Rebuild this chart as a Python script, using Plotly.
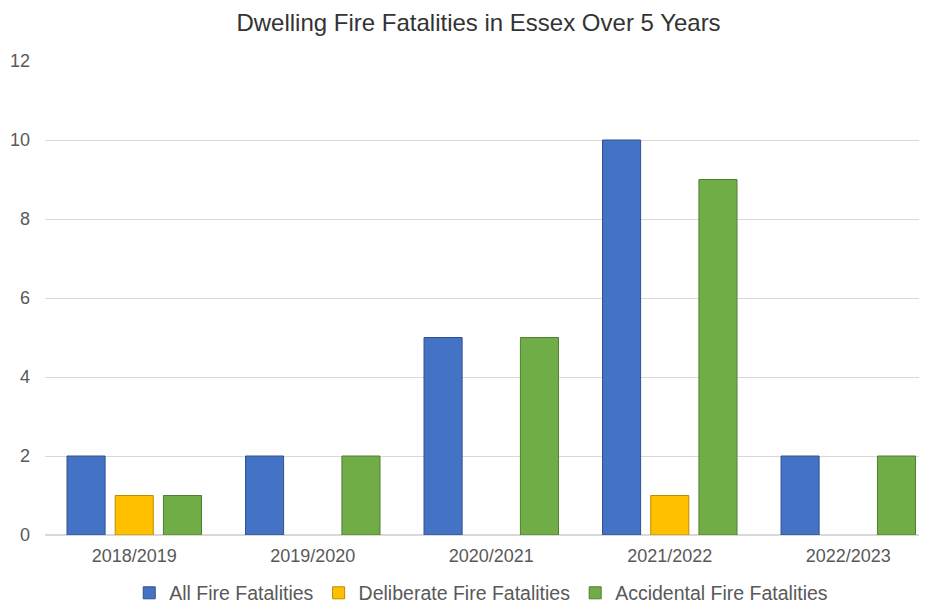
import plotly.graph_objects as go

categories = ["2018/2019", "2019/2020", "2020/2021", "2021/2022", "2022/2023"]
all_fire = [2, 2, 5, 10, 2]
deliberate_fire = [1, 0, 0, 1, 0]
accidental_fire = [1, 2, 5, 9, 2]

series = [
    ("All Fire Fatalities", all_fire, "#4472C4", "#2F528F"),
    ("Deliberate Fire Fatalities", deliberate_fire, "#FFC000", "#BC8C00"),
    ("Accidental Fire Fatalities", accidental_fire, "#70AD47", "#507E32"),
]

fig = go.Figure()
for name, vals, fill, edge in series:
    fig.add_trace(go.Bar(
        name=name, x=categories, y=vals,
        marker=dict(color=fill,
                    line=dict(color=edge, width=[1 if v else 0 for v in vals])),
    ))

# page has an 8px body margin; figure is sized so that it fills the window
fig.update_layout(
    width=919, height=597,
    paper_bgcolor="white", plot_bgcolor="white",
    font=dict(family="Liberation Sans, Arial, sans-serif", color="#595959"),
    title=dict(text="Dwelling Fire Fatalities in Essex Over 5 Years",
               x=0.512, xanchor="center", y=0.975, yanchor="middle",
               font=dict(size=24, color="#333333")),
    barmode="group", bargap=0.19, bargroupgap=0.21,
    margin=dict(l=37, r=0, t=53, b=70, autoexpand=False),
    showlegend=True,
    legend=dict(orientation="h", x=0.4946, xanchor="center", y=-0.0815, yanchor="top",
                font=dict(size=19.5, color="#595959"), itemwidth=30,
                traceorder="normal"),
    xaxis=dict(showgrid=False, showline=False, ticks="", automargin=False,
               range=[-0.5, 4.441], ticklabelstandoff=8,
               tickfont=dict(size=18, color="#595959")),
    yaxis=dict(range=[0, 12], dtick=2, showgrid=True, gridcolor="#D9D9D9",
               zeroline=True, zerolinecolor="#D9D9D9", showline=False,
               automargin=False,
               tickfont=dict(size=18, color="#595959"), ticklabelstandoff=14),
)

fig.write_html("out.html")
